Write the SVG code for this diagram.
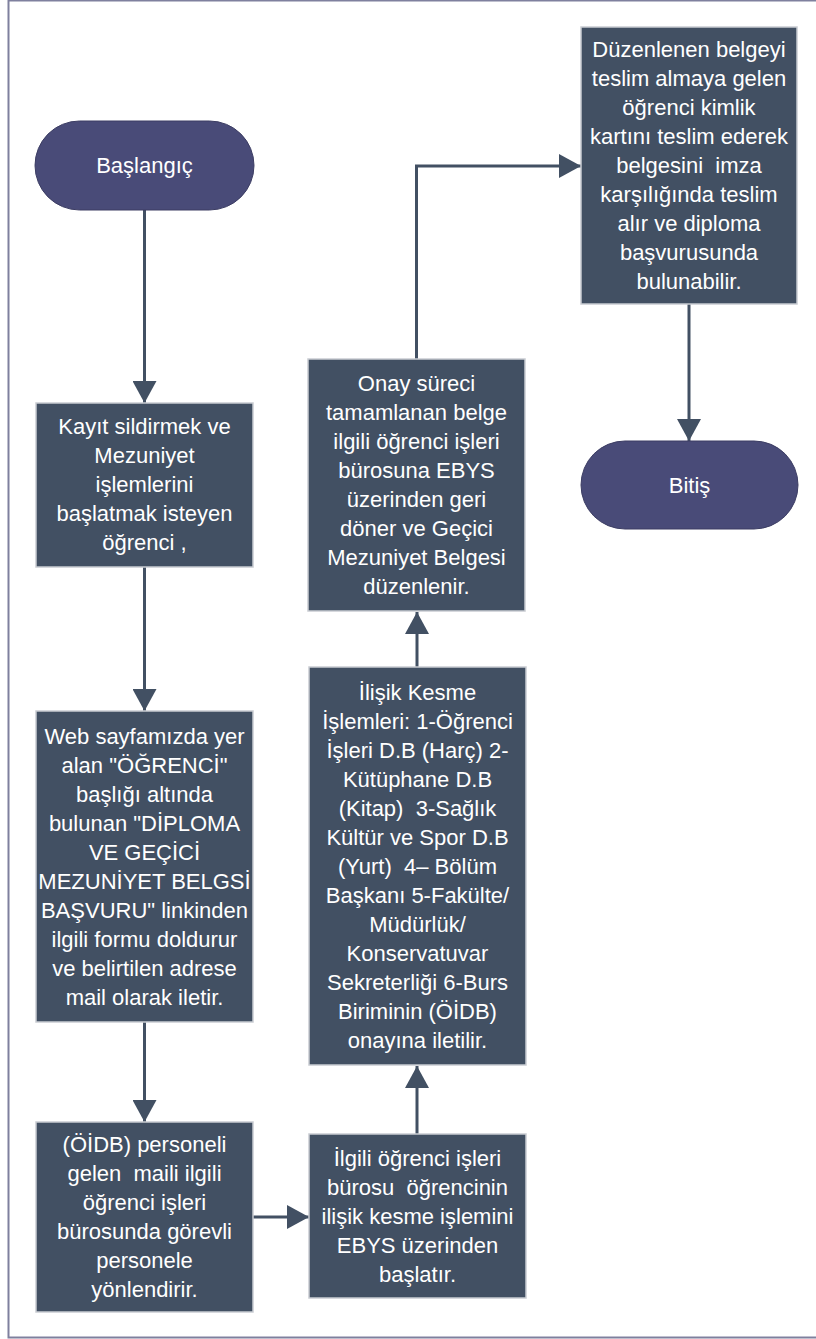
<svg xmlns="http://www.w3.org/2000/svg" width="816" height="1339" viewBox="0 0 816 1339">
<style>
.box{fill:#425063;stroke:#c9ccd2;stroke-width:1.5}
.term{fill:#494b78;stroke:#3c3d63;stroke-width:1}
.t{font-family:"Liberation Sans",Arial,Helvetica,sans-serif;font-size:22px;fill:#ffffff;text-anchor:middle;white-space:pre}
.c{fill:none;stroke:#425063;stroke-width:3}
</style>
<defs>
<marker id="ah" viewBox="0 0 22 24" refX="22" refY="12" markerWidth="22" markerHeight="24" markerUnits="userSpaceOnUse" orient="auto">
<path d="M0,0 L22,12 L0,24 Z" fill="#425063"/>
</marker>
</defs>
<rect x="8.5" y="0.5" width="900" height="1337" fill="#ffffff" stroke="#7f809e" stroke-width="2"/>
<g id="connectors">
<path class="c" d="M144.5,210 L144.5,403" marker-end="url(#ah)"/>
<path class="c" d="M144.5,567 L144.5,711" marker-end="url(#ah)"/>
<path class="c" d="M144.5,1022 L144.5,1122" marker-end="url(#ah)"/>
<path class="c" d="M253,1217 L309,1217" marker-end="url(#ah)"/>
<path class="c" d="M417,1134 L417,1066" marker-end="url(#ah)"/>
<path class="c" d="M417,667 L417,612" marker-end="url(#ah)"/>
<path class="c" d="M416.5,359 L416.5,166 L581,166" marker-end="url(#ah)"/>
<path class="c" d="M689,304 L689,441" marker-end="url(#ah)"/>
</g>
<g id="start">
<rect class="term" x="35" y="121" width="219" height="89" rx="44.5"/>
<text class="t" x="144.5" y="173">Başlangıç</text>
</g>
<g id="n1">
<rect class="box" x="36" y="403" width="217" height="164"/>
<text class="t" x="144.5" y="433.7">Kayıt sildirmek ve</text>
<text class="t" x="144.5" y="462.7">Mezuniyet</text>
<text class="t" x="144.5" y="491.7">işlemlerini</text>
<text class="t" x="144.5" y="520.7">başlatmak isteyen</text>
<text class="t" x="144.5" y="549.7">öğrenci ,</text>
</g>
<g id="n2">
<rect class="box" x="36" y="711" width="217" height="311"/>
<text class="t" x="144.5" y="744">Web sayfamızda yer</text>
<text class="t" x="144.5" y="773">alan "ÖĞRENCİ"</text>
<text class="t" x="144.5" y="802">başlığı altında</text>
<text class="t" x="144.5" y="831">bulunan "DİPLOMA</text>
<text class="t" x="144.5" y="860">VE GEÇİCİ</text>
<text class="t" x="144.5" y="889">MEZUNİYET BELGSİ</text>
<text class="t" x="144.5" y="918">BAŞVURU" linkinden</text>
<text class="t" x="144.5" y="947">ilgili formu doldurur</text>
<text class="t" x="144.5" y="976">ve belirtilen adrese</text>
<text class="t" x="144.5" y="1005">mail olarak iletir.</text>
</g>
<g id="n3">
<rect class="box" x="36" y="1122" width="217" height="190"/>
<text class="t" x="144.5" y="1152.2">(ÖİDB) personeli</text>
<text class="t" x="144.5" y="1181.2">gelen  maili ilgili</text>
<text class="t" x="144.5" y="1210.2">öğrenci işleri</text>
<text class="t" x="144.5" y="1239.2">bürosunda görevli</text>
<text class="t" x="144.5" y="1268.2">personele</text>
<text class="t" x="144.5" y="1297.2">yönlendirir.</text>
</g>
<g id="n4">
<rect class="box" x="309" y="1134" width="217" height="164"/>
<text class="t" x="417.5" y="1165.7">İlgili öğrenci işleri</text>
<text class="t" x="417.5" y="1194.7">bürosu  öğrencinin</text>
<text class="t" x="417.5" y="1223.7">ilişik kesme işlemini</text>
<text class="t" x="417.5" y="1252.7">EBYS üzerinden</text>
<text class="t" x="417.5" y="1281.7">başlatır.</text>
</g>
<g id="n5">
<rect class="box" x="309" y="667" width="217" height="398"/>
<text class="t" x="417.5" y="699.7">İlişik Kesme</text>
<text class="t" x="417.5" y="728.7">İşlemleri: 1-Öğrenci</text>
<text class="t" x="417.5" y="757.7">İşleri D.B (Harç) 2-</text>
<text class="t" x="417.5" y="786.7">Kütüphane D.B</text>
<text class="t" x="417.5" y="815.7">(Kitap)  3-Sağlık</text>
<text class="t" x="417.5" y="844.7">Kültür ve Spor D.B</text>
<text class="t" x="417.5" y="873.7">(Yurt)  4– Bölüm</text>
<text class="t" x="417.5" y="902.7">Başkanı 5-Fakülte/</text>
<text class="t" x="417.5" y="931.7">Müdürlük/</text>
<text class="t" x="417.5" y="960.7">Konservatuvar</text>
<text class="t" x="417.5" y="989.7">Sekreterliği 6-Burs</text>
<text class="t" x="417.5" y="1018.7">Biriminin (ÖİDB)</text>
<text class="t" x="417.5" y="1047.7">onayına iletilir.</text>
</g>
<g id="n6">
<rect class="box" x="308" y="359" width="217" height="252"/>
<text class="t" x="416.5" y="391.2">Onay süreci</text>
<text class="t" x="416.5" y="420.2">tamamlanan belge</text>
<text class="t" x="416.5" y="449.2">ilgili öğrenci işleri</text>
<text class="t" x="416.5" y="478.2">bürosuna EBYS</text>
<text class="t" x="416.5" y="507.2">üzerinden geri</text>
<text class="t" x="416.5" y="536.2">döner ve Geçici</text>
<text class="t" x="416.5" y="565.2">Mezuniyet Belgesi</text>
<text class="t" x="416.5" y="594.2">düzenlenir.</text>
</g>
<g id="n7">
<rect class="box" x="581" y="27" width="216" height="277"/>
<text class="t" x="689" y="57.2">Düzenlenen belgeyi</text>
<text class="t" x="689" y="86.2">teslim almaya gelen</text>
<text class="t" x="689" y="115.2">öğrenci kimlik</text>
<text class="t" x="689" y="144.2">kartını teslim ederek</text>
<text class="t" x="689" y="173.2">belgesini  imza</text>
<text class="t" x="689" y="202.2">karşılığında teslim</text>
<text class="t" x="689" y="231.2">alır ve diploma</text>
<text class="t" x="689" y="260.2">başvurusunda</text>
<text class="t" x="689" y="289.2">bulunabilir.</text>
</g>
<g id="end">
<rect class="term" x="581" y="441" width="217" height="88" rx="44"/>
<text class="t" x="689.5" y="492.7">Bitiş</text>
</g>
</svg>
